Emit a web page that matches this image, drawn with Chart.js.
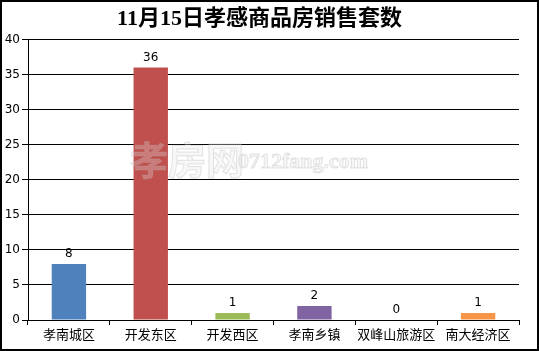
<!DOCTYPE html>
<html lang="zh-CN">
<head>
<meta charset="UTF-8">
<title>11月15日孝感商品房销售套数</title>
<style>
  html, body { margin: 0; padding: 0; background: #fff; }
  #wrap { width: 539px; height: 351px; position: relative; }
</style>
</head>
<body>
<div id="wrap"><canvas id="grafico"></canvas></div>
<script src="https://cdn.jsdelivr.net/npm/chart.js"></script>
<script>
const categorias = ['孝南城区', '开发东区', '开发西区', '孝南乡镇', '双峰山旅游区', '南大经济区']
const valores = [8, 36, 1, 2, 0, 1]
const cores = ['#4F81BD', '#C0504D', '#9BBB59', '#8064A2', '#4BACC6', '#F79646']
const ticksY = [0, 5, 10, 15, 20, 25, 30, 35, 40]

const fonteTicks = { family: '"DejaVu Sans", "Noto Sans CJK SC"', size: 12 }

// rotulos em cima das barras + marca d'agua + moldura
const extras = {
  id: 'extras',
  afterDatasetsDraw(chart) {
    const c = chart.ctx
    const meta = chart.getDatasetMeta(0)
    c.save()
    c.fillStyle = '#000'
    c.font = '12px "DejaVu Sans"'
    c.textAlign = 'center'
    c.textBaseline = 'bottom'
    meta.data.forEach((bar, i) => {
      c.fillText(String(valores[i]), bar.x, bar.y - 4)
    })
    // marca d'agua
    const a = chart.chartArea
    c.globalAlpha = 0.3
    c.fillStyle = '#e4e4e4'
    c.strokeStyle = '#aaa'
    c.lineWidth = 1
    c.textAlign = 'left'
    c.textBaseline = 'middle'
    c.font = 'bold 38px "Noto Sans CJK SC"'
    c.fillText('孝房网', a.left + 102, a.top + 120)
    c.strokeText('孝房网', a.left + 102, a.top + 120)
    c.font = 'bold 22px "Liberation Serif"'
    c.fillText('0712fang.com', a.left + 210, a.top + 123)
    c.strokeText('0712fang.com', a.left + 210, a.top + 123)
    c.restore()
  },
  afterDraw(chart) {
    const c = chart.ctx
    c.save()
    c.strokeStyle = '#000'
    c.lineWidth = 2
    c.strokeRect(1, 1, chart.width - 2, chart.height - 2)
    c.restore()
  }
}

new Chart(document.getElementById('grafico'), {
  type: 'bar',
  data: {
    labels: categorias,
    datasets: [{
      data: valores,
      backgroundColor: cores,
      borderWidth: 0,
      barPercentage: 0.42,
      categoryPercentage: 1
    }]
  },
  options: {
    responsive: true,
    maintainAspectRatio: false,
    animation: false,
    layout: { padding: { left: 0, right: 20, top: 0, bottom: 0 } },
    plugins: {
      legend: { display: false },
      tooltip: { enabled: false },
      title: {
        display: true,
        text: '11月15日孝感商品房销售套数',
        color: '#000',
        font: { family: '"Liberation Serif", "Noto Sans CJK SC"', size: 22, weight: 'bold', lineHeight: 1.2 },
        padding: { top: 6, bottom: 7 }
      }
    },
    scales: {
      x: {
        grid: { display: true, drawOnChartArea: false, drawTicks: true, tickLength: 5, color: '#000', offset: true },
        border: { color: '#000', width: 1 },
        ticks: { color: '#000', font: { family: '"Noto Sans CJK SC"', size: 13 }, padding: 1, maxRotation: 0, autoSkip: false },
        afterFit(scale) { scale.height = 31 }
      },
      y: {
        min: 0,
        max: 40,
        grid: { color: '#000', lineWidth: 1, tickLength: 6 },
        border: { color: '#000', width: 1 },
        afterBuildTicks(scale) { scale.ticks = ticksY.map(v => ({ value: v })) },
        ticks: { color: '#000', font: fonteTicks, padding: 2 },
        afterFit(scale) { scale.width = 28 }
      }
    }
  },
  plugins: [extras]
})
</script>
</body>
</html>
